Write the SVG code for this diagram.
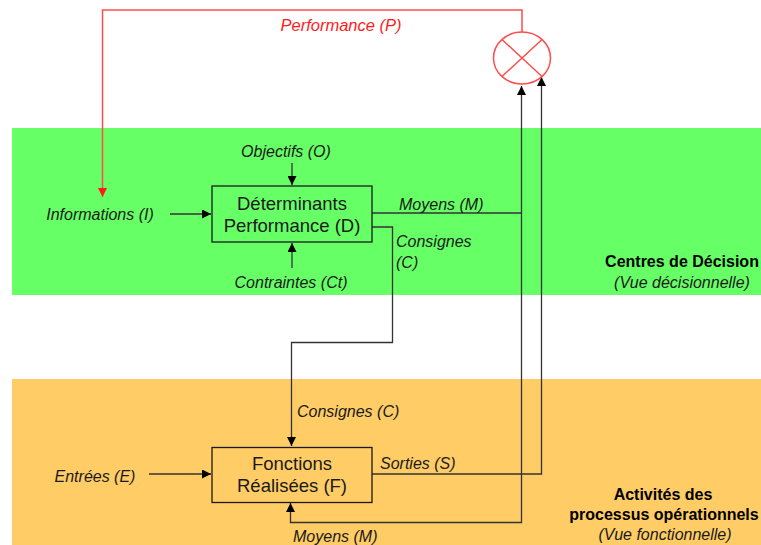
<svg xmlns="http://www.w3.org/2000/svg" width="761" height="545" viewBox="0 0 761 545">
<defs>
<style>
.lbl{font-family:"Liberation Sans",Arial,sans-serif;font-style:italic;font-size:16px;fill:#1a1a1a}
.box{fill:none;stroke:#1a1a1a;stroke-width:1.3}
.btxt{font-family:"Liberation Sans",Arial,sans-serif;font-size:18.5px;fill:#1a1a1a;text-anchor:middle}
.zone{font-family:"Liberation Sans",Arial,sans-serif;font-weight:bold;font-size:16px;fill:#000;text-anchor:middle}
.zonei{font-family:"Liberation Sans",Arial,sans-serif;font-style:italic;font-size:16px;fill:#1a1a1a;text-anchor:middle}
.ln{fill:none;stroke:#333;stroke-width:1.3}
.red{fill:none;stroke:#ff4d4d;stroke-width:1.5}
</style>
<marker id="ah" viewBox="0 0 10 10" refX="10" refY="5" markerWidth="9" markerHeight="9" markerUnits="userSpaceOnUse" orient="auto-start-reverse"><path d="M0,0 L10,5 L0,10 z" fill="#000"/></marker>
<marker id="ahr" viewBox="0 0 10 10" refX="10" refY="5" markerWidth="9" markerHeight="9" markerUnits="userSpaceOnUse" orient="auto"><path d="M0,0 L10,5 L0,10 z" fill="#ff1a1a"/></marker>
</defs>
<rect width="761" height="545" fill="#fff"/>
<g id="zone-decision">
<rect x="12" y="128" width="749" height="167" fill="#66ff66"/>
<text class="zone" x="682" y="267">Centres de Décision</text>
<text class="zonei" x="682" y="288">(Vue décisionnelle)</text>
</g>
<g id="zone-operation">
<rect x="12" y="379" width="749" height="166" fill="#ffcc66"/>
<text class="zone" x="663" y="500">Activités des</text>
<text class="zone" x="664" y="520">processus opérationnels</text>
<text class="zonei" x="665" y="540">(Vue fonctionnelle)</text>
</g>
<g id="connectors">
<path class="red" d="M522,32 V10 H102.5 V197" marker-end="url(#ahr)"/>
<path class="ln" d="M170,214 H211" marker-end="url(#ah)"/>
<path class="ln" d="M292,163 V185" marker-end="url(#ah)"/>
<path class="ln" d="M292,268 V243" marker-end="url(#ah)"/>
<path class="ln" d="M372,213 H521.5"/>
<path class="ln" d="M372,227 H392.5 V342.5 H291.5 V446" marker-end="url(#ah)"/>
<path class="ln" d="M149,474 H211" marker-end="url(#ah)"/>
<path class="ln" d="M372,474 H541.5 V77" marker-end="url(#ah)"/>
<path class="ln" d="M290.5,503 V522.5 H521.5 V86" marker-start="url(#ah)" marker-end="url(#ah)"/>
</g>
<g id="comparator">
<ellipse cx="522" cy="58" rx="28.5" ry="26" fill="#fff" stroke="#ff4d4d" stroke-width="1.5"/>
<path class="red" d="M502,39.5 L542,76.5 M542,39.5 L502,76.5"/>
</g>
<g id="labels">
<text x="341" y="31" font-family="Liberation Sans, Arial, sans-serif" font-style="italic" font-size="16.5" fill="#ff1a1a" text-anchor="middle">Performance (P)</text>
<text class="lbl" x="286" y="157" text-anchor="middle">Objectifs (O)</text>
<text class="lbl" x="100" y="220" text-anchor="middle">Informations (I)</text>
<text class="lbl" x="291" y="288" text-anchor="middle">Contraintes (Ct)</text>
<text class="lbl" x="399" y="210">Moyens (M)</text>
<text class="lbl" x="396" y="247">Consignes</text>
<text class="lbl" x="396" y="268">(C)</text>
<text class="lbl" x="297" y="417">Consignes (C)</text>
<text class="lbl" x="95" y="482" text-anchor="middle">Entrées (E)</text>
<text class="lbl" x="380" y="469">Sorties (S)</text>
<text class="lbl" x="293" y="542">Moyens (M)</text>
</g>
<g id="node-D">
<rect class="box" x="212" y="186" width="160" height="56"/>
<text class="btxt" x="292" y="210">Déterminants</text>
<text class="btxt" x="292" y="232">Performance (D)</text>
</g>
<g id="node-F">
<rect class="box" x="212" y="447.5" width="160" height="55"/>
<text class="btxt" x="292" y="470">Fonctions</text>
<text class="btxt" x="292" y="492">Réalisées (F)</text>
</g>
</svg>
